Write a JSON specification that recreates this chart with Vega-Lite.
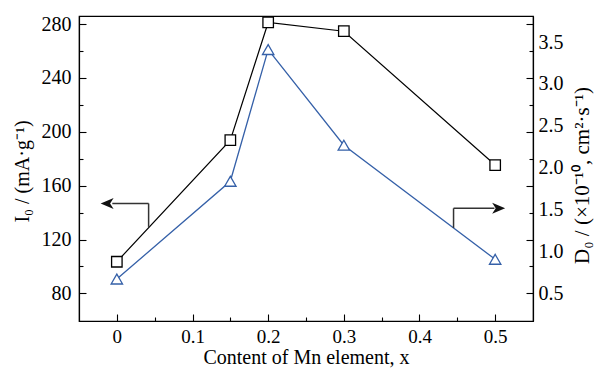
{
  "$schema": "https://vega.github.io/schema/vega-lite/v6.json",
  "width": 454,
  "height": 305,
  "autosize": "none",
  "padding": {"left": 79, "top": 16, "right": 61, "bottom": 51},
  "background": "white",
  "config": {
    "view": {"stroke": "black", "strokeWidth": 1.2},
    "font": "Liberation Serif",
    "axis": {
      "labelFont": "Liberation Serif",
      "labelFontSize": 20,
      "labelColor": "black",
      "titleFont": "Liberation Serif",
      "titleFontSize": 20,
      "titleFontWeight": "normal",
      "titleColor": "black",
      "domainColor": "black",
      "domainWidth": 1.2,
      "tickColor": "black",
      "tickWidth": 1.1,
      "grid": false
    }
  },
  "datasets": {
    "main": [
      {"x": 0, "I0": 103.5, "D0": 0.675},
      {"x": 0.15, "I0": 193.8, "D0": 1.84},
      {"x": 0.2, "I0": 281.2, "D0": 3.41},
      {"x": 0.3, "I0": 274.7, "D0": 2.27},
      {"x": 0.5, "I0": 175.3, "D0": 0.91}
    ],
    "leftArrow": [
      {"xa": 0.042, "xb": -0.006, "I0": 146.8, "yb": 146.8},
      {"xa": 0.042, "xb": 0.042, "I0": 146.8, "yb": 129.4}
    ],
    "leftHead": [{"x": -0.0128, "I0": 146.8}],
    "rightArrow": [
      {"xa": 0.445, "xb": 0.499, "D0": 1.518, "yb": 1.518},
      {"xa": 0.445, "xb": 0.445, "D0": 1.518, "yb": 1.284}
    ],
    "rightHead": [{"x": 0.5046, "D0": 1.518}]
  },
  "resolve": {"scale": {"y": "independent"}, "axis": {"y": "independent"}},
  "layer": [
    {
      "encoding": {
        "y": {
          "field": "I0", "type": "quantitative",
          "scale": {"domain": [59.5, 286], "nice": false, "zero": false},
          "axis": {
            "orient": "left",
            "values": [80, 100, 120, 140, 160, 180, 200, 220, 240, 260, 280],
            "labelExpr": "datum.value % 40 === 0 ? datum.label : ''",
            "tickSize": {"condition": {"test": "datum.value % 40 === 0", "value": -7}, "value": -4},
            "labelPadding": 15,
            "title": "I₀ / (mA·g⁻¹)",
            "titleX": -57,
            "titleY": 155,
            "titleAngle": -90,
            "titleBaseline": "middle",
            "titleAlign": "center"
          }
        }
      },
      "layer": [
        {
          "data": {"name": "main"},
          "mark": {"type": "line", "color": "black", "strokeWidth": 1.2},
          "encoding": {
            "x": {
              "field": "x", "type": "quantitative",
              "scale": {"domain": [-0.05, 0.55], "nice": false, "zero": false},
              "axis": {
                "orient": "bottom",
                "values": [0, 0.05, 0.1, 0.15, 0.2, 0.25, 0.3, 0.35, 0.4, 0.45, 0.5],
                "labelExpr": "round(datum.value*100)%10 === 0 ? (datum.value === 0 ? '0' : format(datum.value, '.1f')) : ''",
                "tickSize": {"condition": {"test": "round(datum.value*100)%10 === 0", "value": -7}, "value": -4},
                "labelPadding": 13,
                "labelFontSize": 19,
                "title": "Content of Mn element, x",
                "titlePadding": 1
              }
            }
          }
        },
        {
          "data": {"name": "main"},
          "mark": {"type": "point", "shape": "square", "size": 110, "fill": "white", "stroke": "black", "strokeWidth": 1.3, "opacity": 1, "fillOpacity": 1},
          "encoding": {
            "x": {"field": "x", "type": "quantitative"}
          }
        },
        {
          "data": {"name": "leftArrow"},
          "mark": {"type": "rule", "color": "#333333", "strokeWidth": 1.5},
          "encoding": {
            "x": {"field": "xa", "type": "quantitative"},
            "x2": {"field": "xb"},
            "y2": {"field": "yb"}
          }
        },
        {
          "data": {"name": "leftHead"},
          "mark": {"type": "point", "shape": "M-1,0L1,-0.85L0.45,0L1,0.85Z", "size": 169, "filled": true, "color": "#111111", "opacity": 1},
          "encoding": {
            "x": {"field": "x", "type": "quantitative"}
          }
        }
      ]
    },
    {
      "encoding": {
        "y": {
          "field": "D0", "type": "quantitative",
          "scale": {"domain": [0.175, 3.81], "nice": false, "zero": false},
          "axis": {
            "orient": "right",
            "values": [0.5, 1.0, 1.5, 2.0, 2.5, 3.0, 3.5],
            "format": ".1f",
            "ticks": false,
            "labelPadding": 5,
            "title": "D₀ / (×10⁻¹⁰, cm²·s⁻¹)",
            "titleFontSize": 21,
            "titleX": 49,
            "titleY": 159,
            "titleAngle": -90,
            "titleBaseline": "middle",
            "titleAlign": "center"
          }
        }
      },
      "layer": [
        {
          "data": {"name": "main"},
          "mark": {"type": "line", "color": "#3560a8", "strokeWidth": 1.3},
          "encoding": {
            "x": {"field": "x", "type": "quantitative"}
          }
        },
        {
          "data": {"name": "main"},
          "mark": {"type": "point", "shape": "triangle-up", "size": 130, "fill": "white", "stroke": "#3560a8", "strokeWidth": 1.3, "opacity": 1, "fillOpacity": 1},
          "encoding": {
            "x": {"field": "x", "type": "quantitative"}
          }
        },
        {
          "data": {"name": "rightArrow"},
          "mark": {"type": "rule", "color": "#333333", "strokeWidth": 1.5},
          "encoding": {
            "x": {"field": "xa", "type": "quantitative"},
            "x2": {"field": "xb"},
            "y2": {"field": "yb"}
          }
        },
        {
          "data": {"name": "rightHead"},
          "mark": {"type": "point", "shape": "M1,0L-1,-0.85L-0.45,0L-1,0.85Z", "size": 169, "filled": true, "color": "#111111", "opacity": 1},
          "encoding": {
            "x": {"field": "x", "type": "quantitative"}
          }
        }
      ]
    },
    {
      "data": {"name": "main"},
      "mark": {"type": "point", "opacity": 0},
      "encoding": {
        "x": {"field": "x", "type": "quantitative"},
        "y": {
          "field": "I0", "type": "quantitative",
          "scale": {"domain": [59.5, 286], "nice": false, "zero": false},
          "axis": {
            "orient": "right",
            "values": [80, 100, 120, 140, 160, 180, 200, 220, 240, 260, 280],
            "labels": false,
            "domain": false,
            "title": null,
            "tickSize": {"condition": {"test": "datum.value % 40 === 0", "value": -7}, "value": -4}
          }
        }
      }
    }
  ]
}
